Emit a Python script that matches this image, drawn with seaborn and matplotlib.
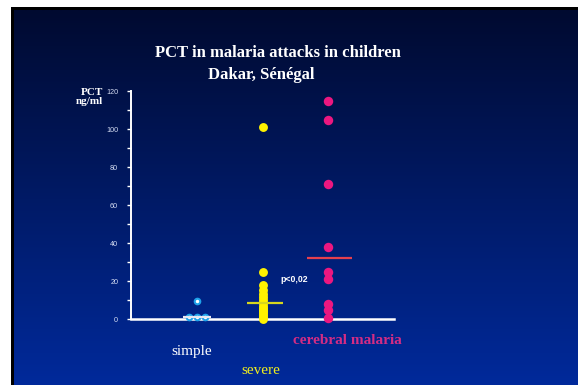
import numpy as np
import pandas as pd
import matplotlib
matplotlib.use("Agg")
import matplotlib.pyplot as plt
import matplotlib.transforms as mtransforms
import seaborn as sns

# ---- data -------------------------------------------------------------
categories = ["simple", "severe", "cerebral malaria"]
simple_pct = [9.5, 1.0, 1.0, 1.0]
severe_pct = [101, 24.5, 18, 15.5, 13, 11.5, 10, 8.5, 7, 6, 5, 4, 3, 2, 1, 0]
cerebral_pct = [115, 105, 71, 38, 25, 21, 8, 5, 0.5]
median_pct = [1.0, 8.5, 32.0]
y_ticks = [0, 20, 40, 60, 80, 100, 120]

df = pd.DataFrame({
    "group": (["simple"] * len(simple_pct) + ["severe"] * len(severe_pct)
              + ["cerebral malaria"] * len(cerebral_pct)),
    "pct": simple_pct + severe_pct + cerebral_pct,
})

sns.set_style("white")
serif = ["Liberation Serif", "DejaVu Serif"]
sans = ["Liberation Sans", "DejaVu Sans"]

W, H = 578, 385
fig = plt.figure(figsize=(W / 100, H / 100), dpi=100)
fig.patch.set_facecolor("white")

# ---- slide background: white margin, black frame, navy-to-blue gradient
bg = fig.add_axes([0, 0, 1, 1], zorder=-10)
bg.axis("off")
top = np.array([0, 10, 48]) / 255
bottom = np.array([1, 42, 156]) / 255
bg.add_patch(plt.Rectangle((14, 10), W, H, color=bottom, lw=0, zorder=1))
t = np.linspace(0, 1, 256)[:, None]
grad = (top[None, :] * (1 - t) + bottom[None, :] * t)[:, None, :]
bg.imshow(grad, extent=(14, W + 4, H + 4, 10), aspect="auto",
          interpolation="bilinear", zorder=2)
bg.add_patch(plt.Rectangle((11, 7), 3, H, color="black", lw=0, zorder=3))
bg.add_patch(plt.Rectangle((11, 7), W, 3, color="black", lw=0, zorder=3))
bg.set_xlim(0, W)
bg.set_ylim(H, 0)

# ---- main plot --------------------------------------------------------
ax = fig.add_axes([131 / W, (H - 319) / H, (394 - 131) / W, 228 / H])
ax.set_facecolor("none")

sns.swarmplot(data=df[df.group == "simple"], x="group", y="pct", order=categories,
              color="white", edgecolor="#1ea2ea", linewidth=1.5, size=4.0, ax=ax)
sns.stripplot(data=df[df.group == "severe"], x="group", y="pct", order=categories,
              jitter=False, color="#fff200", linewidth=0, size=6.4, ax=ax)
sns.stripplot(data=df[df.group == "cerebral malaria"], x="group", y="pct",
              order=categories, jitter=False, color="#ec1780", linewidth=0,
              size=6.8, ax=ax)
for coll in ax.collections:
    coll.set_clip_on(False)
    coll.set_zorder(4)

# median bars
line_colors = ["#e6e8f2", "#d6d61e", "#e4404e"]
half_widths = [0.21, 0.27, 0.34]
shifts = [0.0, 0.04, 0.02]
for i, (m, c, hw, s) in enumerate(zip(median_pct, line_colors, half_widths, shifts)):
    ax.hlines(m, i + s - hw, i + s + hw, colors=c, lw=1.6, zorder=5)

ax.set_xlim(-1, 3)
ax.set_ylim(0, 120)
ax.set_xlabel("")
ax.set_ylabel("")
ax.set_xticks([])
ax.set_yticks(y_ticks)
ax.set_yticks(np.arange(10, 120, 20), minor=True)
ax.tick_params(axis="y", which="both", direction="out", length=3.2, width=1.0,
               color="white", left=True, pad=6)
ax.tick_params(axis="y", which="major", labelsize=5.2, labelcolor="#d4dcf2")
for lab in ax.get_yticklabels():
    lab.set_family(sans)

for side in ("top", "right"):
    ax.spines[side].set_visible(False)
ax.spines["left"].set_color("white")
ax.spines["left"].set_linewidth(1.4)
ax.spines["bottom"].set_color("white")
ax.spines["bottom"].set_linewidth(1.8)
ax.spines["bottom"].set_zorder(3)

# axis unit label
fig.text(103 / W, 1 - 88 / H, "PCT\nng/ml", ha="right", va="top", color="white",
         fontsize=8, fontweight="bold", family=serif, linespacing=1.05)

# category labels beneath the axis
label_colors = ["white", "#f2ee1c", "#d42c84"]
label_weights = ["normal", "normal", "bold"]
label_offsets = [-0.07, -0.02, 0.29]
label_rows = [352, 371, 341]
trans = mtransforms.blended_transform_factory(ax.transData, fig.transFigure)
for i, name in enumerate(categories):
    ax.text(i + label_offsets[i], 1 - label_rows[i] / H, name, transform=trans,
            ha="center", va="center", color=label_colors[i], fontsize=11,
            fontweight=label_weights[i], family=serif, clip_on=False)

# significance note
ax.text(1.48, 21, "p<0,02", ha="center", va="center", color="white",
        fontsize=6.3, fontweight="bold", family=sans)

# title
fig.text(278 / W, 1 - 53 / H, "PCT in malaria attacks in children", ha="center",
         va="center", color="white", fontsize=12, fontweight="bold", family=serif)
fig.text(261 / W, 1 - 75 / H, "Dakar, Sénégal", ha="center", va="center",
         color="white", fontsize=12, fontweight="bold", family=serif)

fig.savefig("out.png", dpi=100, facecolor=fig.get_facecolor())
